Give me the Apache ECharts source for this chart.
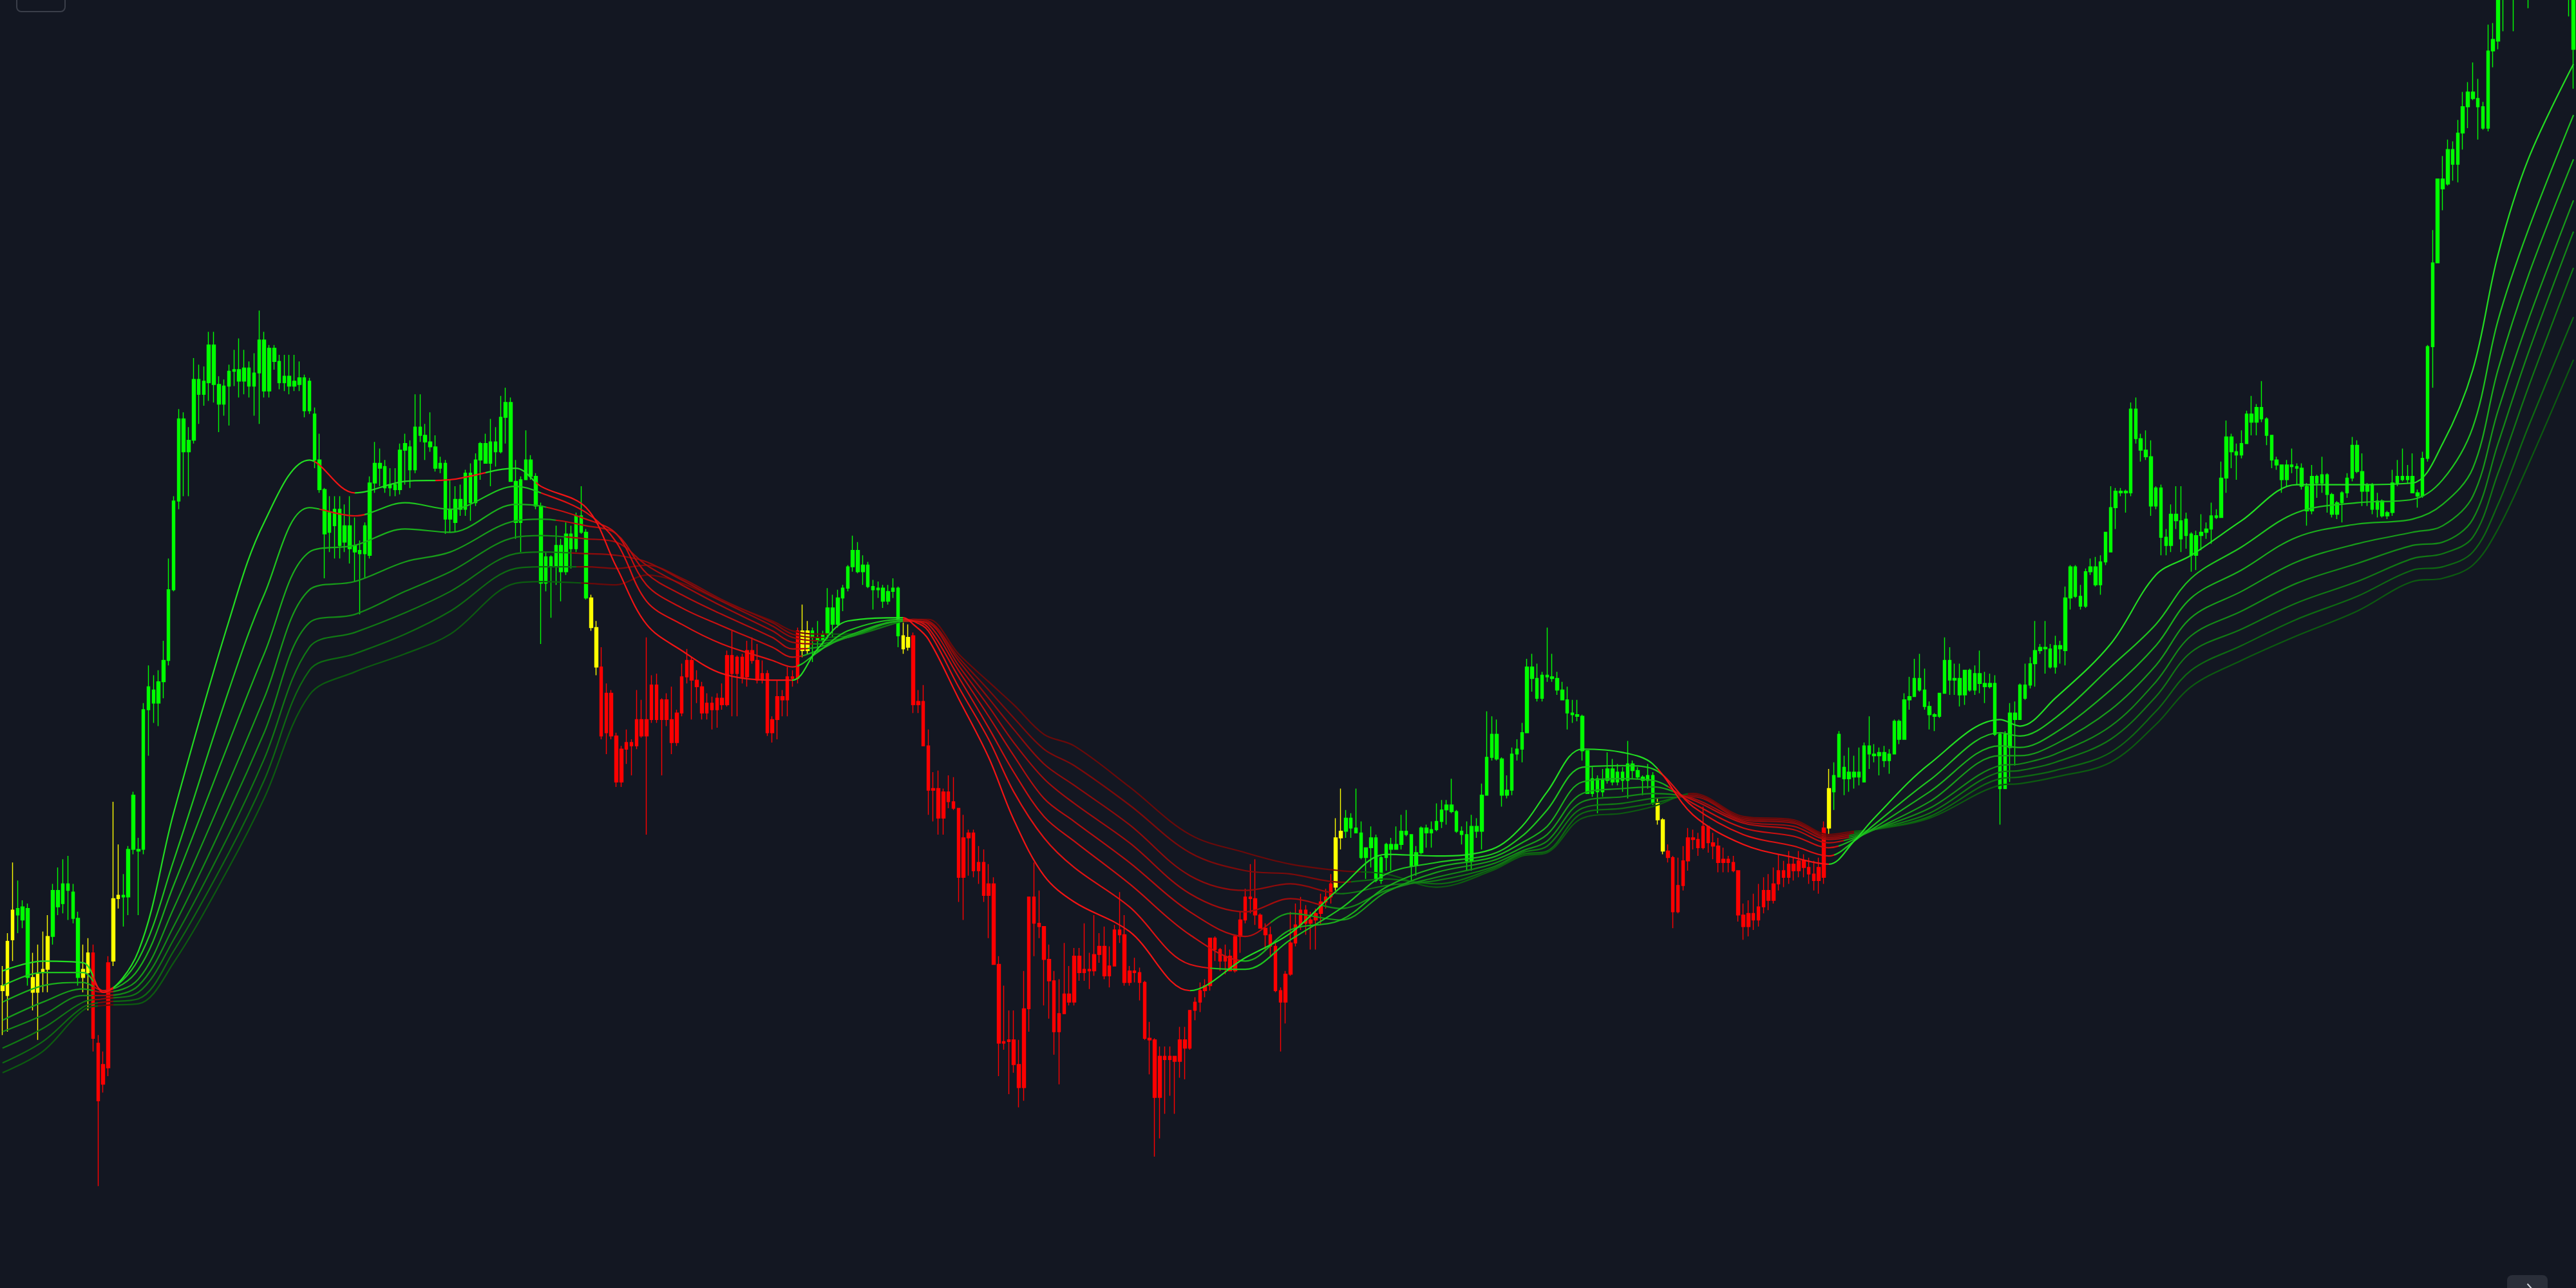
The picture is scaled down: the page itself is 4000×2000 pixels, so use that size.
<!DOCTYPE html>
<html>
<head>
<meta charset="utf-8">
<title>EMA ribbon</title>
<script src="https://cdn.jsdelivr.net/npm/echarts@6/dist/echarts.min.js"></script>
<style>
html, body { margin: 0; padding: 0; background: #131722; }
#chart { width: 4000px; height: 2000px; }
</style>
</head>
<body>
<div id="chart"></div>
<script>
// candles: [open, close, low, high]
const candles = [
  [197,200,170,212],[194,227,172,232],[228,246,215,275],[243,247,232,264],[248,240,235,252],[247,205,200,250],[205,196,185,220],[196,207,167,225],
  [208,210,196,233],[210,230,196,243],[230,258,225,262],[258,248,243,272],[250,262,244,277],[262,258,240,279],[257,241,238,262],[241,205,200,245],
  [205,210,196,225],[208,220,185,229],[220,168,160,225],[165,130,78,170],[140,152,135,160],[150,214,145,218],[215,253,212,312],[253,255,247,286],
  [255,254,236,268],[254,283,243,285],[283,316,280,318],[282,283,243,290],[283,368,280,372],[368,382,340,395],[380,372,360,389],[372,385,358,392],
  [385,398,375,410],[398,441,395,460],[441,495,440,498],[495,545,490,551],[545,525,498,549],[525,532,498,540],[532,569,530,582],[569,560,542,578],
  [560,568,553,577],[567,590,556,598],[590,566,555,598],[566,554,537,571],[554,565,547,569],[565,574,541,578],[574,575,565,587],[575,568,558,594],
  [568,576,560,587],[576,565,558,580],[565,573,547,585],[573,593,542,611],[593,562,558,598],[562,588,558,590],[588,580,575,590],[580,567,563,584],
  [567,571,562,584],[571,565,560,584],[565,568,562,584],[566,570,562,580],[570,550,546,572],[550,568,548,570],[548,520,515,552],[520,502,500,536],
  [502,475,448,503],[476,488,464,498],[480,490,460,498],[490,468,460,498],[470,480,464,493],[480,466,457,498],[468,464,446,485],[465,463,426,471],
  [463,480,448,482],[462,506,460,510],[506,518,500,531],[518,515,504,527],[516,503,500,520],[503,505,498,515],[505,502,498,515],[502,526,499,530],
  [526,530,505,536],[528,514,503,532],[514,540,512,560],[540,535,531,560],[535,531,520,542],[531,528,525,549],[528,515,513,535],[515,518,512,522],
  [518,484,475,520],[484,490,476,508],[482,496,476,504],[496,490,486,505],[490,512,486,514],[512,494,483,518],[494,520,492,524],[520,530,508,531],
  [530,518,518,536],[518,531,504,545],[531,525,516,540],[525,546,524,559],[546,555,530,564],[555,507,507,558],[507,482,472,520],[482,508,464,510],
  [508,520,508,538],[520,510,508,523],[510,492,490,512],[492,445,408,494],[445,461,440,464],[461,455,424,462],[455,468,444,480],[468,452,434,472],
  [452,475,450,482],[475,466,454,480],[466,486,464,488],[486,476,475,504],[476,436,435,478],[436,418,416,438],[418,394,389,422],[394,352,350,406],
  [354,378,341,384],[378,352,350,380],[352,324,321,354],[324,344,321,346],[344,348,335,356],[348,346,328,350],[346,362,344,380],[362,352,351,374],
  [352,362,292,412],[362,383,360,389],[383,362,360,390],[362,374,328,375],[374,362,358,378],[362,348,341,382],[348,366,346,368],[366,388,364,396],
  [388,398,384,405],[398,386,362,400],[386,382,372,392],[382,366,362,385],[366,372,362,378],[372,368,356,376],[368,375,357,378],[375,371,368,384],
  [371,401,370,404],[401,390,364,416],[390,400,364,401],[400,388,384,402],[388,404,382,410],[404,398,396,412],[398,386,384,408],[386,390,384,398],
  [390,354,352,392],[354,362,348,364],[362,376,350,386],[376,374,364,380],[374,388,364,394],[388,387,382,392],[387,416,384,418],[416,404,400,432],
  [404,416,402,422],[416,412,397,418],[412,410,403,422],[410,414,407,416],[414,430,411,442],[430,420,412,438],[420,436,418,441],[436,442,428,444],
  [442,455,440,456],[455,465,452,474],[465,452,451,470],[452,456,444,462],[456,443,442,458],[443,441,429,447],[441,442,436,446],[442,434,430,444],
  [434,440,432,444],[440,442,436,448],[442,413,406,443],[413,405,402,421],[406,412,404,420],[413,371,366,415],[371,373,366,380],[373,346,346,383],
  [346,319,304,356],[319,320,300,330],[320,302,292,331],[302,318,292,320],[318,312,308,328],[312,308,307,327],[308,266,251,308],[266,290,240,304],
  [290,293,267,295],[293,270,266,295],[270,275,262,285],[275,255,251,283],[255,262,229,274],[262,213,213,266],[213,165,145,218],[165,166,161,200],
  [166,167,134,185],[167,152,147,185],[152,138,126,167],[138,186,130,209],[186,254,172,254],[254,238,218,275],[238,236,229,258],[236,216,188,236],
  [216,203,180,225],[203,172,158,209],[172,183,140,204],[183,195,183,226],[195,190,188,212],[190,218,188,223],[218,208,203,223],[208,210,203,238],
  [210,209,198,220],[209,219,206,243],[219,224,214,232],[224,206,204,236],[206,212,199,224],[212,234,212,237],[234,231,226,257],[231,202,200,243],
  [202,209,200,212],[209,208,202,217],[208,202,191,211],[202,168,167,203],[168,167,146,178],[167,132,96,168],[132,157,107,163],[157,155,122,163],
  [155,157,133,163],[157,154,122,157],[154,167,144,175],[167,162,143,175],[162,185,161,185],[185,190,179,193],[190,197,184,202],[197,200,193,204],
  [200,229,197,229],[229,222,215,230],[222,215,209,223],[215,218,207,225],[218,209,209,222],[209,230,208,231],[230,240,220,245],[240,254,238,259],
  [254,253,244,274],[253,243,237,277],[243,235,235,244],[235,231,222,238],[231,224,218,236],[224,197,196,226],[197,190,160,199],[190,207,177,209],
  [207,226,206,245],[226,237,224,250],[237,246,234,254],[246,238,231,249],[238,240,222,245],[240,244,222,247],[244,251,237,256],[251,254,247,259],
  [254,262,250,268],[260,290,258,302],[290,294,283,320],[294,302,290,307],[302,296,290,305],[296,293,293,320],[293,278,277,300],[278,284,265,284],
  [284,290,272,297],[290,264,263,292],[264,278,262,279],[278,286,270,287],[286,283,270,290],[283,286,283,297],[286,294,283,304],[294,292,291,307],
  [292,273,264,292],[273,281,267,285],[281,296,280,297],[296,293,284,298],[293,295,284,300],[295,300,294,311],[300,307,296,313],[307,310,298,313],
  [310,306,305,326],[306,294,293,307],[294,292,286,297],[292,276,270,300],[276,297,270,304],[297,294,290,302],[294,316,283,323],[316,339,316,367],
  [339,353,337,364],[353,338,337,362],[338,316,309,339],[316,319,314,328],[319,341,316,345],[341,344,337,350],[344,354,336,360],[354,394,354,399],
  [394,387,379,402],[387,375,373,396],[375,389,373,391],[389,388,385,418],[388,387,385,402],[387,380,377,391],[380,374,374,385],[374,366,356,382],
  [366,365,360,374],[365,364,361,374],[364,343,337,365],[343,317,317,343],[317,326,315,333],[326,318,305,328],[318,325,315,332],[325,332,323,342],
  [332,324,322,338],[324,330,322,335],[330,325,318,333],[325,335,314,349],[335,331,326,337],[331,327,326,333],[327,325,316,328],[325,328,320,335],
  [328,311,310,330],[311,301,298,314],[301,282,280,302],[282,278,275,286],[278,245,235,279],[245,261,244,278],[261,276,258,285],[276,290,270,296],
  [290,289,283,295],[289,284,279,293],[284,297,283,309],[297,287,281,297],[287,285,277,293],[285,275,269,290],[275,277,269,284],[277,275,269,279],
  [275,270,269,279],[270,243,239,270],[243,236,228,250],[236,244,230,252],[244,240,234,256],[240,248,236,262],[248,258,244,266],[258,252,246,268],
  [252,262,250,272],[262,270,258,280],[270,266,260,276],[266,274,262,282],[274,270,264,278],[270,276,266,282],[276,272,266,280],[272,268,262,278],
  [268,264,258,276],[264,272,256,278],[266,296,262,300],[296,320,292,332],[318,328,307,336],[327,353,327,355],[333,326,316,340],[326,330,318,345],
  [330,327,320,340],[327,330,322,345],[324,346,324,348],[346,341,332,364],[341,340,336,347],[340,342,328,345],[342,337,333,346],[337,341,329,344],
  [341,361,341,362],[361,350,347,362],[350,374,350,378],[374,376,368,388],[376,387,376,399],[387,380,379,402],[380,370,368,393],[370,365,356,373],
  [365,364,355,366],[364,378,363,378],[378,398,378,412],[398,386,377,406],[386,387,377,396],[387,377,370,396],[377,392,371,392],[392,380,379,393],
  [380,390,377,395],[390,384,378,404],[384,382,372,391],[382,384,381,390],[384,353,352,389],[353,320,298,354],[320,353,320,355],[345,366,324,372],
  [366,362,334,373],[362,383,362,384],[383,375,374,396],[383,396,381,400],[396,404,382,422],[404,406,402,408],[406,405,390,422],[405,394,393,408],
  [394,407,390,413],[407,405,396,410],[404,436,395,443],[436,455,429,456],[455,437,436,456],[437,431,429,444],[431,452,430,454],[452,455,450,460],
  [455,444,443,461],[444,458,438,462],[458,476,456,476],[464,491,464,504],[491,501,478,503],[501,500,498,503],[500,501,488,502],[500,551,498,555],
  [551,533,530,558],[533,526,519,536],[526,522,520,538],[522,492,486,532],[492,503,490,504],[503,473,462,505],[473,468,462,478],[468,487,464,493],
  [487,483,478,504],[483,472,464,504],[474,484,466,488],[475,462,452,476],[462,474,453,477],[474,476,465,487],[476,478,472,482],[478,486,469,494],
  [486,485,484,490],[485,509,485,519],[509,534,500,544],[534,525,515,536],[525,523,508,530],[523,530,521,538],[530,548,530,550],[548,543,535,559],
  [543,552,535,554],[552,545,543,568],[545,535,529,546],[535,520,515,535],[520,517,514,522],[517,508,500,517],[508,517,504,520],[517,516,512,527],
  [516,515,505,518],[515,504,502,518],[504,489,480,506],[489,510,487,517],[510,506,497,511],[506,511,500,522],[511,499,488,512],[499,487,485,500],
  [487,494,484,495],[494,500,482,501],[500,509,497,512],[509,529,507,534],[529,513,512,532],[513,501,492,524],[501,505,492,506],[505,490,487,506],
  [490,495,485,500],[495,486,485,496],[486,488,484,489],[488,506,486,514],[506,510,504,520],[510,508,507,527],[508,510,506,517],[510,500,500,524],
  [500,498,491,502],[498,521,497,525],[521,589,519,590],[589,640,564,660],[640,691,640,691],[691,685,672,705],[688,709,687,715],[709,700,690,714],
  [700,719,689,727],[719,735,709,744],[735,744,722,750],[744,740,739,762],[740,735,715,752],[735,722,721,738],[722,769,720,785],[769,776,759,786],
  [775,806,770,812],[806,812,781,822],[812,830,805,840],[830,825,781,845],[825,840,815,850],[840,845,830,858],[845,838,795,860],[838,850,825,865],
  [850,862,840,870],[862,858,845,875],[858,870,850,880],[870,865,852,885],[865,850,835,875],[850,830,810,860],[830,815,790,840],[815,770,746,830]
];

// candle colour state: [first, last, tone]  g = above ribbon, r = below, y = crossing
const candleTone = [
  [0, 2, 'y'], [3, 5, 'g'], [6, 9, 'y'], [10, 15, 'g'], [16, 17, 'y'], [18, 21, 'r'], [22, 23, 'y'],
  [24, 116, 'g'], [117, 118, 'y'], [119, 158, 'r'], [159, 160, 'y'], [161, 178, 'g'], [179, 180, 'y'],
  [181, 264, 'r'], [265, 266, 'y'], [267, 328, 'g'], [329, 330, 'y'], [331, 362, 'r'], [363, 363, 'y'],
  [364, 511, 'g']
];

// ribbon read at these candle indices (fastest line first)
const ribbonAt = [0, 8, 16, 20, 27, 34, 45, 52, 61, 70, 80, 89, 102, 107, 116, 122, 128, 135, 143, 153, 157, 162, 168, 179, 181, 184, 190, 196, 201, 207, 213, 224, 236, 247, 256, 266, 275, 285, 296, 302, 307, 314, 322, 328, 336, 346, 356, 363, 368, 372, 383, 397, 401, 408, 419, 428, 435, 445, 456, 468, 479, 485, 491, 496, 502, 511];
const ema1 = [209, 215, 214, 196, 221, 305, 422, 482, 520, 500, 507, 508, 515, 504, 491, 455, 420, 404, 390, 386, 386, 405, 422, 424, 420, 411, 375, 339, 301, 267, 251, 233, 197, 217, 232, 260, 280, 279, 283, 297, 318, 344, 342, 335, 304, 286, 278, 274, 288, 302, 335, 362, 358, 375, 408, 450, 462, 483, 505, 505, 506, 530, 575, 645, 703, 761];
const ema2 = [200, 208, 208, 197, 216, 276, 380, 438, 491, 486, 494, 490, 504, 500, 488, 470, 434, 420, 408, 398, 394, 403, 416, 423, 422, 416, 382, 350, 318, 290, 272, 248, 213, 210, 228, 247, 268, 275, 280, 291, 307, 333, 334, 332, 309, 292, 285, 279, 288, 298, 325, 354, 352, 363, 394, 420, 448, 467, 488, 494, 496, 508, 540, 605, 660, 730];
const ema3 = [190, 200, 202, 197, 210, 261, 348, 402, 464, 468, 478, 476, 493, 492, 484, 475, 444, 430, 419, 406, 400, 404, 413, 422, 422, 418, 388, 357, 330, 303, 288, 262, 231, 215, 234, 240, 260, 272, 278, 287, 297, 324, 326, 325, 311, 296, 291, 284, 289, 296, 318, 346, 345, 354, 380, 407, 436, 453, 473, 481, 484, 493, 515, 575, 632, 703];
const ema4 = [179, 190, 198, 196, 204, 247, 324, 375, 441, 446, 458, 464, 483, 484, 480, 475, 451, 438, 426, 412, 405, 406, 412, 422, 422, 420, 392, 364, 340, 314, 300, 275, 245, 230, 244, 240, 257, 269, 276, 284, 292, 317, 320, 321, 313, 299, 295, 287, 290, 295, 312, 340, 340, 347, 368, 395, 424, 440, 458, 469, 476, 480, 498, 550, 605, 678];
const ema5 = [172, 182, 194, 194, 200, 236, 306, 354, 421, 426, 440, 452, 473, 474, 472, 470, 456, 444, 431, 416, 409, 408, 412, 422, 422, 421, 395, 370, 348, 326, 311, 287, 256, 245, 253, 247, 258, 266, 274, 282, 288, 312, 315, 317, 314, 300, 297, 289, 291, 295, 308, 334, 335, 341, 358, 385, 413, 428, 445, 457, 468, 470, 484, 530, 585, 659];
const ema6 = [162, 174, 190, 192, 196, 228, 292, 338, 406, 415, 427, 440, 463, 464, 463, 462, 458, 447, 434, 419, 412, 410, 412, 422, 423, 422, 398, 375, 356, 335, 322, 298, 267, 258, 262, 256, 261, 264, 272, 281, 285, 308, 311, 314, 315, 301, 299, 290, 292, 295, 305, 330, 331, 336, 350, 376, 403, 417, 433, 446, 460, 463, 473, 512, 564, 637];
const ema7 = [153, 166, 187, 190, 192, 221, 281, 325, 392, 402, 414, 428, 454, 455, 455, 454, 456, 448, 435, 421, 414, 412, 413, 422, 423, 422, 400, 380, 363, 344, 334, 310, 281, 270, 268, 263, 265, 262, 271, 280, 282, 305, 308, 311, 316, 302, 300, 291, 293, 295, 303, 326, 327, 331, 342, 367, 392, 407, 423, 437, 453, 455, 464, 493, 540, 607];
const ema8 = [147, 160, 185, 188, 189, 214, 272, 314, 377, 391, 402, 414, 445, 446, 445, 444, 450, 445, 434, 422, 416, 414, 414, 423, 423, 423, 402, 385, 371, 353, 346, 321, 292, 281, 274, 270, 268, 260, 270, 279, 281, 302, 305, 309, 317, 303, 301, 292, 294, 295, 302, 322, 323, 327, 336, 359, 382, 398, 413, 428, 446, 448, 456, 478, 517, 581];

// index spans where each ribbon line sits above price (drawn red)
const redSpans = [
  [[18, 22], [62, 70], [86, 96], [106, 157], [179, 236], [329, 363]],
  [[18, 22], [63, 72], [107, 158], [179, 240], [330, 364]],
  [[18, 22], [108, 159], [179, 246], [331, 365]],
  [[18, 22], [110, 160], [180, 252], [332, 366]],
  [[18, 22], [112, 161], [180, 262], [333, 367]],
  [[18, 22], [113, 162], [180, 265], [333, 367]],
  [[19, 22], [114, 163], [180, 268], [334, 368]],
  [[19, 22], [115, 164], [180, 270], [335, 368]]
];

const toneColor = { g: '#00ff00', r: '#ff0000', y: '#ffff00' };
const greens = ['#22dd22', '#1ec51e', '#1ab01b', '#179c19', '#138a16', '#107913', '#0d6a11', '#0b5b0f'];
const reds = ['#f21414', '#de1212', '#c91010', '#b50e0e', '#a10c0c', '#8f0b0b', '#7d0a0a', '#6b0909'];
const emas = [ema1, ema2, ema3, ema4, ema5, ema6, ema7, ema8];

const chart = echarts.init(document.getElementById('chart'));

// tone per candle
const tones = [];
candleTone.forEach(([a, b, t]) => {
  for (let i = a; i <= b; i++) tones[i] = t;
});

const candleData = candles.map((c, i) => {
  const col = toneColor[tones[i] || 'g'];
  return {
    value: c,
    itemStyle: { color: col, color0: col, borderColor: col, borderColor0: col }
  };
});

// green / red pieces along x for one line
function linePieces(spans, k) {
  const pieces = [];
  let prev = null;
  spans.forEach(([a, b]) => {
    pieces.push(prev === null ? { lt: a, color: greens[k] } : { gte: prev, lt: a, color: greens[k] });
    pieces.push({ gte: a, lt: b, color: reds[k] });
    prev = b;
  });
  pieces.push({ gte: prev, color: greens[k] });
  return pieces;
}

const series = [{
  type: 'candlestick',
  data: candleData,
  barWidth: '64%',
  itemStyle: { borderWidth: 1.4 },
  z: 2
}];
const visualMaps = [];

// slowest first so the fast line ends up on top
for (let k = emas.length - 1; k >= 0; k--) {
  visualMaps.push({
    type: 'piecewise',
    show: false,
    seriesIndex: series.length,
    dimension: 0,
    pieces: linePieces(redSpans[k], k)
  });
  series.push({
    type: 'line',
    data: ribbonAt.map((x, j) => [x, emas[k][j]]),
    smooth: 0.35,
    symbol: 'none',
    silent: true,
    lineStyle: { width: 2.2 },
    z: 3
  });
}

const option = {
  backgroundColor: '#131722',
  animation: false,
  grid: { left: 0, right: 0, top: 0, bottom: 0 },
  xAxis: {
    type: 'category',
    data: candles.map((c, i) => String(i + 1)),
    show: false,
    boundaryGap: true
  },
  yAxis: {
    type: 'value',
    min: 16,
    max: 800,
    show: false,
    splitLine: { show: false }
  },
  visualMap: visualMaps,
  series: series,
  graphic: [
    { type: 'rect', left: 25, top: -12, shape: { width: 75, height: 29, r: 7 }, style: { fill: 'transparent', stroke: '#3a3e49', lineWidth: 2 } },
    { type: 'rect', left: 3893, top: 1980, shape: { width: 63, height: 40, r: 8 }, style: { fill: '#2a2e39' } },
    { type: 'line', left: 3922, top: 1991, shape: { x1: 0, y1: 0, x2: 8, y2: 9 }, style: { stroke: '#d1d4dc', lineWidth: 2 } }
  ]
};

chart.setOption(option);
</script>
</body>
</html>
